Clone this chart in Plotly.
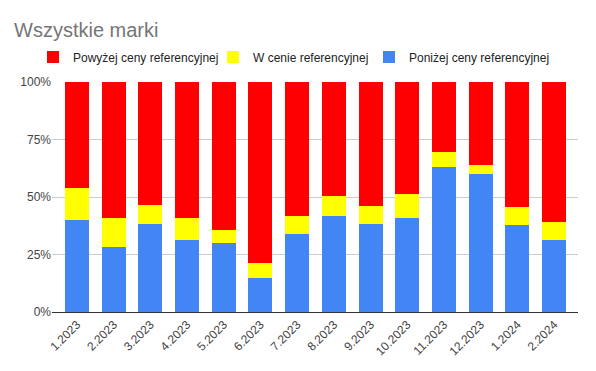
import plotly.graph_objects as go

categories = ["1.2023", "2.2023", "3.2023", "4.2023", "5.2023", "6.2023", "7.2023",
              "8.2023", "9.2023", "10.2023", "11.2023", "12.2023", "1.2024", "2.2024"]
ponizej = [40.0, 28.3, 38.4, 31.4, 30.0, 14.9, 34.0, 41.9, 38.4, 41.0, 63.0, 60.1, 38.0, 31.4]
w_cenie = [14.0, 12.7, 8.1, 9.6, 5.8, 6.5, 7.9, 8.7, 7.8, 10.4, 6.7, 3.9, 7.8, 7.9]
powyzej = [46.0, 59.0, 53.5, 59.0, 64.2, 78.6, 58.1, 49.4, 53.8, 48.6, 30.3, 36.0, 54.2, 60.7]
y_ticks = [0, 25, 50, 75, 100]
y_tick_labels = ["0%", "25%", "50%", "75%", "100%"]

L, R, T, B = 52, 18, 82, 59
W, H = 596, 371
pw, ph = W - L - R, H - T - B

fig = go.Figure()
fig.add_trace(go.Bar(x=categories, y=ponizej, name="Poniżej ceny referencyjnej",
                     marker=dict(color="#4285f4", line=dict(width=0)), legend="legend3"))
fig.add_trace(go.Bar(x=categories, y=w_cenie, name="W cenie referencyjnej",
                     marker=dict(color="#ffff00", line=dict(width=0)), legend="legend2"))
fig.add_trace(go.Bar(x=categories, y=powyzej, name="Powyżej ceny referencyjnej",
                     marker=dict(color="#ff0000", line=dict(width=0)), legend="legend"))

def leg(px):
    return dict(orientation="h", x=px/W, xref="container", xanchor="left",
                y=1 - 57/H, yref="container", yanchor="middle",
                font=dict(size=12, color="#222222"),
                itemclick=False, bgcolor="rgba(0,0,0,0)")

fig.update_layout(
    width=W, height=H,
    barmode="stack", barnorm="percent", bargap=0.346,
    paper_bgcolor="white", plot_bgcolor="white",
    margin=dict(l=L, r=R, t=T, b=B, autoexpand=False),
    font=dict(family="Liberation Sans, Arial", size=12, color="#444444"),
    title=dict(text="Wszystkie marki", x=14/W, xref="container", xanchor="left",
               y=1 - 30/H, yref="container", yanchor="middle",
               font=dict(family="Liberation Sans, Arial", size=20, color="#757575")),
    legend=leg(33), legend2=leg(213), legend3=leg(369),
    showlegend=True,
)
fig.update_yaxes(range=[0, 100], tickvals=y_ticks, ticktext=y_tick_labels,
                 gridcolor="#cccccc", gridwidth=1, zeroline=False,
                 showline=False, tickfont=dict(size=12, color="#444444"), fixedrange=True)
fig.update_xaxes(range=[-0.68, 13.65], tickangle=-45, showline=True,
                 linecolor="#333333", linewidth=1,
                 tickfont=dict(size=12, color="#444444"), showgrid=False)

fig.write_html("out.html", config={"displayModeBar": False},
               post_script="document.body.style.margin='0';")
